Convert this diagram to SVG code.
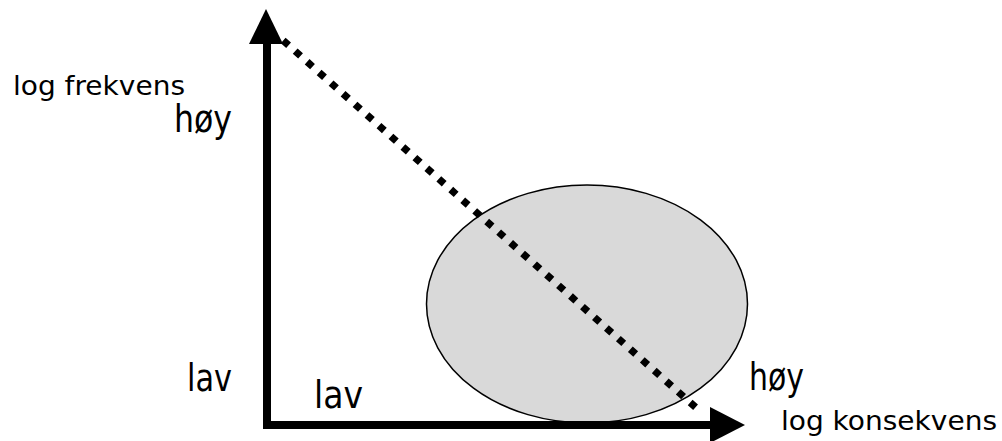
<svg xmlns="http://www.w3.org/2000/svg" width="1002" height="441" viewBox="0 0 1002 441">
<style>
.t{font-family:"DejaVu Sans","Liberation Sans",sans-serif;fill:#000}
.s{font-size:27px}
.b{font-size:37px}
</style>
<rect width="1002" height="441" fill="#fff"/>
<g id="region">
<ellipse cx="587" cy="304" rx="160.5" ry="119" fill="#d9d9d9" stroke="#000" stroke-width="1.5"/>
</g>
<g id="connectors">
<line x1="267" y1="428" x2="267" y2="40" stroke="#000" stroke-width="8"/>
<polygon points="266,9 249,44 283,44" fill="#000"/>
<line x1="263" y1="425" x2="714" y2="425" stroke="#000" stroke-width="8"/>
<polygon points="710,407 745,425 710,443" fill="#000"/>
<line x1="283.2" y1="40.5" x2="695.8" y2="407.5" stroke="#000" stroke-width="7.2" stroke-dasharray="7.2 8.82"/>
</g>
<g id="labels">
<text class="t s" x="13" y="95" textLength="172" lengthAdjust="spacingAndGlyphs">log frekvens</text>
<text class="t b" x="174" y="132" textLength="58" lengthAdjust="spacingAndGlyphs">høy</text>
<text class="t b" x="187" y="391" textLength="45" lengthAdjust="spacingAndGlyphs">lav</text>
<text class="t b" x="314" y="408" textLength="49" lengthAdjust="spacingAndGlyphs">lav</text>
<text class="t b" x="749" y="390" textLength="55" lengthAdjust="spacingAndGlyphs">høy</text>
<text class="t s" x="781" y="430" textLength="216" lengthAdjust="spacingAndGlyphs">log konsekvens</text>
</g>
</svg>
